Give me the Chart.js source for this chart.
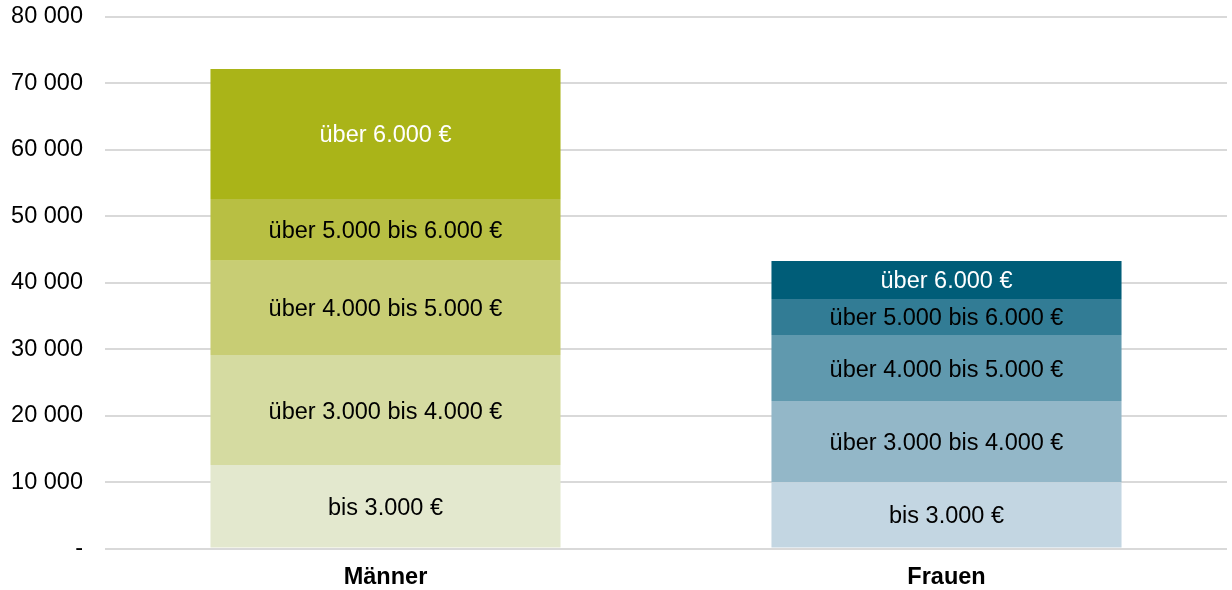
<!DOCTYPE html>
<html>
<head>
<meta charset="utf-8">
<script src="https://cdn.jsdelivr.net/npm/chart.js"></script>
<style>
	body { margin: 0; background: #fff; }
	#wrap { width: 1232px; height: 590px; }
</style>
</head>
<body>
<div id="wrap"><canvas id="mycanvas"></canvas></div>
<script>
var categories = ['Männer', 'Frauen'];
var segments = ['bis 3.000 €', 'über 3.000 bis 4.000 €', 'über 4.000 bis 5.000 €', 'über 5.000 bis 6.000 €', 'über 6.000 €'];
var maennerValues = [12550, 16560, 14200, 9300, 19570];
var frauenValues = [9990, 12200, 9940, 5430, 5720];
var maennerColors = ['#e3e8ce', '#d5dba1', '#c8cd74', '#b8bf43', '#aab418'];
var frauenColors = ['#c3d6e2', '#93b7c8', '#6099ae', '#327c95', '#005d78'];
var textColors = ['#000', '#000', '#000', '#000', '#fff'];

var FONT = "'Liberation Sans', Arial, sans-serif";

var datasets = [];
for (var i in segments) {
	datasets.push({
		label: segments[i],
		data: [maennerValues[i], frauenValues[i]],
		backgroundColor: [maennerColors[i], frauenColors[i]],
		textColor: textColors[i],
		categoryPercentage: 1,
		barPercentage: 0.624
	});
}

// Beschriftung in der Mitte jedes Segments
var segmentLabels = {
	id: 'segmentLabels',
	afterDatasetsDraw: function(chart) {
		var ctx = chart.ctx;
		ctx.save();
		ctx.font = '23.5px ' + FONT;
		ctx.textAlign = 'center';
		ctx.textBaseline = 'middle';
		chart.data.datasets.forEach(function(ds, di) {
			var meta = chart.getDatasetMeta(di);
			meta.data.forEach(function(bar) {
				ctx.fillStyle = ds.textColor;
				ctx.fillText(ds.label, bar.x, (bar.y + bar.base) / 2 + 2);
			});
		});
		ctx.restore();
	}
};

var ctx = document.getElementById('mycanvas');
new Chart(ctx, {
	type: 'bar',
	data: { labels: categories, datasets: datasets },
	plugins: [segmentLabels],
	options: {
		responsive: true,
		maintainAspectRatio: false,
		animation: false,
		layout: { padding: { top: 17, right: 5, left: 0, bottom: -16 } },
		plugins: {
			legend: { display: false },
			tooltip: { enabled: false }
		},
		scales: {
			x: {
				stacked: true,
				grid: { display: false, drawTicks: false },
				border: { display: false },
				ticks: {
					padding: 17,
					color: '#000',
					font: { family: FONT, size: 23.5, weight: 'bold', lineHeight: 1 }
				}
			},
			y: {
				stacked: true,
				min: 0,
				max: 80000,
				afterFit: function(scale) {
					scale.width = 105;
					scale.paddingTop = 0;
				},
				grid: { color: '#d9d9d9', lineWidth: 2, drawTicks: false },
				border: { display: false },
				ticks: {
					stepSize: 10000,
					padding: 22,
					color: '#000',
					font: { family: FONT, size: 23.5, lineHeight: 0.1 },
					callback: function(v) {
						if (v === 0) return '-';
						return String(v).replace(/\B(?=(\d{3})+(?!\d))/g, ' ');
					}
				}
			}
		}
	}
});
</script>
</body>
</html>
